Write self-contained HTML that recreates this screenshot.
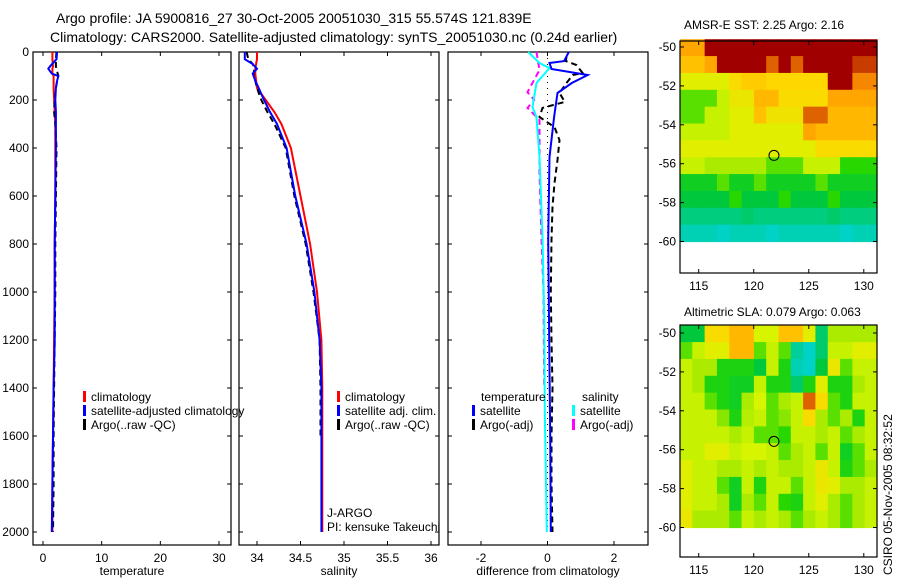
<!DOCTYPE html>
<html><head><meta charset="utf-8"><style>
body{margin:0;background:#fff;}
svg{display:block;font-family:"Liberation Sans",sans-serif;}
text{font-size:12px;fill:#000;}
</style></head><body>
<svg id="fig" width="900" height="580" viewBox="0 0 900 580">
<text x="56" y="23" style="font-size:14px">Argo profile: JA 5900816_27 30-Oct-2005 20051030_315 55.574S 121.839E</text>
<text x="50" y="42" style="font-size:14px">Climatology: CARS2000. Satellite-adjusted climatology: synTS_20051030.nc (0.24d earlier)</text>
<text x="684" y="29">AMSR-E SST: 2.25 Argo: 2.16</text>
<text x="684" y="316">Altimetric SLA: 0.079 Argo: 0.063</text>
<text transform="translate(892,575) rotate(-90)">CSIRO 05-Nov-2005 08:32:52</text>
<g id="g"></g>
</svg>
<script>
// ---- data ----
const tDepth=[0,30,60,70,90,100,120,150,200,250,300,400,600,800,1000,1200,1400,1600,1800,2000];
const tClim=[1.6,1.6,1.7,1.6,1.6,1.8,1.8,1.8,1.9,2.0,2.1,2.1,2.1,2.0,2.0,1.9,1.8,1.7,1.6,1.6];
const tSat=[2.4,2.3,1.2,0.9,1.5,2.6,2.4,2.2,2.1,2.2,2.2,2.2,2.1,2.0,2.0,2.0,1.8,1.7,1.6,1.5];
const tArgo=[2.3,2.2,2.2,2.3,2.5,2.6,2.4,2.2,2.0,1.9,2.1,2.3,2.2,2.1,2.1,2.0,1.9,1.8,1.8,1.7];
const sDepth=[0,30,50,70,90,120,150,200,250,300,400,600,800,1000,1200,1400,1600,1800,2000];
const sClim=[34.0,34.0,33.99,33.98,33.98,33.99,34.0,34.1,34.2,34.28,34.39,34.5,34.61,34.69,34.74,34.75,34.75,34.75,34.75];
const sSat=[33.86,33.86,33.95,34.0,33.95,33.98,34.02,34.08,34.15,34.23,34.34,34.44,34.57,34.66,34.72,34.74,34.74,34.74,34.74];
const sArgo=[33.88,33.9,33.95,33.97,33.96,33.98,34.0,34.05,34.12,34.2,34.33,34.43,34.56,34.65,34.72,34.73,34.73];
const dTSatDepth=[0,38,46,71,96,129,171,271,438,783,1200,1600,2000];
const dTSat=[0.64,0.5,0.06,0.12,1.21,0.73,0.3,0.2,0.06,0.02,0.05,0.08,0.1];
const dTArgoDepth=[21,38,54,88,96,129,171,208,233,271,313,367,450,546,646,783,1000,1200,1400,1600,1800,2000];
const dTArgo=[0.57,0.55,0.87,1.06,0.76,0.57,0.36,0.52,-0.15,-0.24,0.21,0.36,0.3,0.21,0.15,0.12,0.1,0.12,0.15,0.12,0.12,0.15];
const dSSatDepth=[0,46,67,129,229,271,438,771,1100,1500,2000];
const dSSat=[-0.58,-0.24,0.06,-0.33,-0.45,-0.33,-0.24,-0.15,-0.1,-0.08,-0.02];
const dSArgoDepth=[0,75,167,200,233,283,504,783,1000,1400];
const dSArgo=[-0.33,-0.24,-0.6,-0.4,-0.6,-0.24,-0.24,-0.18,-0.12,-0.1];
const depthTicks=[0,200,400,600,800,1000,1200,1400,1600,1800,2000];
const tTicks=[0,10,20,30];
const sTicks=[34,34.5,35,35.5,36];
const dTicks=[-2,0,2];
const lonTicks=[115,120,125,130];
const latTicks=[-50,-52,-54,-56,-58,-60];
const sstGrid=[
[.75,.75,1,1,1,1,1,1,1,1,1,1,1,1,1,1],
[.7,.7,.75,1,1,1,1,.85,1,.85,1,1,1,1,.9,.9],
[.6,.6,.6,.6,.65,.68,.68,.66,.66,.66,.66,.66,1,1,.8,.8],
[.45,.45,.45,.55,.62,.62,.72,.72,.65,.65,.65,.65,.75,.75,.75,.75],
[.45,.45,.55,.55,.6,.6,.7,.63,.63,.63,.85,.85,.72,.72,.72,.72],
[.55,.55,.55,.55,.6,.6,.6,.6,.6,.6,.75,.72,.72,.72,.72,.72],
[.6,.6,.6,.6,.6,.6,.6,.6,.6,.6,.6,.65,.65,.65,.65,.65],
[.55,.55,.5,.5,.5,.5,.5,.45,.45,.45,.55,.55,.55,.42,.42,.42],
[.38,.38,.38,.45,.38,.38,.45,.38,.38,.38,.38,.45,.38,.38,.38,.38],
[.35,.35,.35,.35,.42,.35,.35,.35,.42,.35,.35,.35,.42,.35,.35,.35],
[.28,.28,.28,.28,.28,.3,.28,.28,.28,.28,.28,.28,.3,.28,.28,.28],
[.22,.22,.22,.2,.22,.22,.22,.2,.22,.22,.22,.22,.22,.2,.22,.22]];
const slaGrid=[
[.35,.35,.65,.65,.72,.72,.58,.58,.7,.7,.6,.3,.5,.5,.5,.5],
[.45,.55,.6,.6,.72,.72,.45,.55,.45,.25,.2,.3,.55,.55,.6,.6],
[.55,.5,.5,.4,.4,.4,.35,.55,.4,.22,.2,.35,.62,.45,.55,.55],
[.55,.5,.4,.4,.38,.38,.55,.4,.4,.3,.4,.6,.4,.4,.5,.55],
[.55,.55,.45,.4,.38,.5,.58,.45,.5,.55,.85,.65,.45,.4,.55,.55],
[.55,.55,.55,.48,.4,.52,.55,.45,.48,.55,.65,.5,.45,.5,.4,.55],
[.55,.55,.55,.55,.5,.55,.45,.45,.42,.55,.55,.5,.55,.45,.5,.55],
[.55,.55,.6,.6,.55,.58,.58,.55,.45,.5,.55,.45,.55,.38,.45,.55],
[.6,.55,.55,.5,.5,.55,.5,.55,.5,.5,.55,.62,.55,.4,.45,.5],
[.6,.55,.55,.45,.38,.55,.4,.55,.55,.45,.55,.62,.6,.5,.5,.55],
[.6,.55,.55,.5,.38,.5,.45,.55,.42,.4,.55,.6,.5,.45,.5,.55],
[.62,.5,.5,.5,.45,.55,.5,.55,.5,.45,.5,.55,.5,.45,.5,.55]];
const argoLon=121.839, argoLat=-55.574;

// ---- helpers ----
const NS="http://www.w3.org/2000/svg";
const G=document.getElementById('g');
function el(tag,attrs,parent){const e=document.createElementNS(NS,tag);for(const k in attrs)e.setAttribute(k,attrs[k]);(parent||G).appendChild(e);return e;}
function lin(d0,d1,r0,r1){return v=>r0+(v-d0)*(r1-r0)/(d1-d0);}
const yDepth=lin(0,2000,52,532);

function frame(x0,x1,y0,y1,name){
  const r=el('rect',{x:x0,y:y0,width:x1-x0,height:y1-y0,fill:'none',stroke:'#000','stroke-width':1.2});
  
  
}
function xTicksFn(ticks,sx,y0,y1,fmt,name){
  ticks.forEach(t=>{const x=sx(t);
    el('line',{x1:x,x2:x,y1:y1,y2:y1-4,stroke:'#000'});
    el('line',{x1:x,x2:x,y1:y0,y2:y0+4,stroke:'#000'});
    const tx=el('text',{x:x,y:y1+17,'text-anchor':'middle'});tx.textContent=fmt?fmt(t):t;
    
    
  });
}
function yTicksFn(ticks,sy,x0,x1,labels,name){
  ticks.forEach(t=>{const y=sy(t);
    el('line',{x1:x0,x2:x0+4,y1:y,y2:y,stroke:'#000'});
    el('line',{x1:x1,x2:x1-4,y1:y,y2:y,stroke:'#000'});
    if(labels){const tx=el('text',{x:x0-4,y:y+4,'text-anchor':'end'});tx.textContent=t;
      
      }
  });
}
function line(xs,ds,sx,color,dash,name,w){
  const pts=xs.map((v,i)=>sx(v).toFixed(1)+','+yDepth(ds[i]).toFixed(1)).join(' ');
  const p=el('polyline',{points:pts,fill:'none',stroke:color,'stroke-width':w||2,'stroke-dasharray':dash||'none'});
  
  
}
function label(x,y,txt,name,anchor){const t=el('text',{x:x,y:y,'text-anchor':anchor||'start'});t.textContent=txt;
  
  return t;}
function legendEntry(x,y,color,txt,name){
  const r=el('rect',{x:x,y:y-10,width:3,height:11,fill:color});
  
  
  label(x+8,y,txt,name);
}

// ---- panel 1 temperature ----
const sxT=lin(0,30,43,219);
frame(33,231,52,545,'temperature-axes');
xTicksFn(tTicks,sxT,52,545,null,'temperature-x');
yTicksFn(depthTicks,yDepth,33,231,true,'depth-y');
line(tClim,tDepth,sxT,'#f00',null,'temperature-climatology-line');
line(tArgo,tDepth,sxT,'#000','6,4','temperature-argo-line');
line(tSat,tDepth,sxT,'#00f',null,'temperature-satellite-line');
label(132,575,'temperature','temperature-x-title','middle');
legendEntry(83,401,'#f00','climatology','legend-temp-climatology');
legendEntry(83,415,'#00f','satellite-adjusted climatology','legend-temp-satellite');
legendEntry(83,429,'#000','Argo(..raw -QC)','legend-temp-argo');

// ---- panel 2 salinity ----
const sxS=lin(34,36,257,431);
frame(239,439,52,545,'salinity-axes');
xTicksFn(sTicks,sxS,52,545,null,'salinity-x');
yTicksFn(depthTicks,yDepth,239,439,false,'salinity-depth');
line(sClim,sDepth,sxS,'#f00',null,'salinity-climatology-line');
line(sArgo,sDepth.slice(0,sArgo.length),sxS,'#000','6,4','salinity-argo-line');
line(sSat,sDepth,sxS,'#00f',null,'salinity-satellite-line');
label(339,575,'salinity','salinity-x-title','middle');
legendEntry(337,401,'#f00','climatology','legend-sal-climatology');
legendEntry(337,415,'#00f','satellite adj. clim.','legend-sal-satellite');
legendEntry(337,429,'#000','Argo(..raw -QC)','legend-sal-argo');
label(327,517,'J-ARGO','data-centre-label');
label(327,531,'PI: kensuke Takeuchi','pi-label');

// ---- panel 3 differences ----
const sxD=lin(-2,2,481,614);
frame(448,648,52,545,'difference-axes');
xTicksFn(dTicks,sxD,52,545,null,'difference-x');
yTicksFn(depthTicks,yDepth,448,648,false,'difference-depth');
const zl=el('line',{x1:sxD(0),x2:sxD(0),y1:yDepth(0),y2:yDepth(2000),stroke:'#000','stroke-dasharray':'1,5'});


line(dSArgo,dSArgoDepth,sxD,'#f0f','6,4','salinity-argo-diff-line');
line(dSSat,dSSatDepth,sxD,'#0ff',null,'salinity-satellite-diff-line');
line(dTArgo,dTArgoDepth,sxD,'#000','6,4','temperature-argo-diff-line');
line(dTSat,dTSatDepth,sxD,'#00f',null,'temperature-satellite-diff-line');
label(548,575,'difference from climatology','difference-x-title','middle');
label(481,401,'temperature','legend-temp-header');
label(582,401,'salinity','legend-sal-header');
legendEntry(472,415,'#00f','satellite','legend-diff-temp-satellite');
legendEntry(472,429,'#000','Argo(-adj)','legend-diff-temp-argo');
legendEntry(572,415,'#0ff','satellite','legend-diff-sal-satellite');
legendEntry(572,429,'#f0f','Argo(-adj)','legend-diff-sal-argo');

// ---- maps ----
function cmap(v){
  const stops=[[0,[0,120,255]],[0.2,[0,210,200]],[0.35,[0,200,60]],[0.42,[40,215,0]],[0.5,[170,235,0]],[0.58,[215,245,0]],[0.66,[255,215,0]],[0.78,[255,150,0]],[0.9,[200,60,0]],[1,[160,0,0]]];
  for(let i=1;i<stops.length;i++){if(v<=stops[i][0]){const a=stops[i-1],b=stops[i],f=(v-a[0])/(b[0]-a[0]);
    return 'rgb('+a[1].map((c,j)=>Math.round(c+(b[1][j]-c)*f)).join(',')+')';}}
  return 'rgb(160,0,0)';
}
function map(grid,x0,x1,y0,y1,latTop,name){
  const sx=lin(113.3,131.2,x0,x1), sy=lin(-50,-60,latTop,latTop+194.5);
  const latMax=-49.6, latMin=-60, nR=grid.length, nC=grid[0].length;
  const cw=(x1-x0)/nC, ch=(sy(latMin)-sy(latMax))/nR;
  const gg=el('g',{});
  
  
  grid.forEach((row,r)=>row.forEach((v,c)=>{
    const cell=el('rect',{x:(x0+c*cw).toFixed(2),y:(sy(latMax)+r*ch).toFixed(2),width:(cw+0.6).toFixed(2),height:(ch+0.6).toFixed(2),fill:cmap(v)},gg);
    
    
  }));
  frame(x0,x1,y0,y1,name+'-axes');
  lonTicks.forEach(t=>{const x=sx(t);
    el('line',{x1:x,x2:x,y1:y0,y2:y0+4,stroke:'#000'});
    el('line',{x1:x,x2:x,y1:y1,y2:y1-4,stroke:'#000'});
    label(x,y1+17,String(t),name+'-lon-tick-label','middle');});
  latTicks.forEach(t=>{const y=sy(t);
    el('line',{x1:x0,x2:x0+4,y1:y,y2:y,stroke:'#000'});
    el('line',{x1:x1,x2:x1-4,y1:y,y2:y,stroke:'#000'});
    label(x0-4,y+4,String(t),name+'-lat-tick-label','end');});
  const c=el('circle',{cx:sx(argoLon),cy:sy(argoLat),r:5,fill:'none',stroke:'#000','stroke-width':1});
  
  
}
map(sstGrid,680,877,41,273,47,'sst-map');
map(slaGrid,680,877,325,557,333,'sla-map');
</script>
</body></html>
